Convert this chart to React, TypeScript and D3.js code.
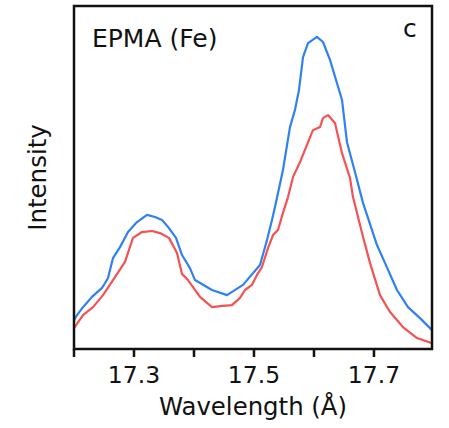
import React from "react";
import * as d3 from "d3";

// Blue series (wavelength Å, intensity a.u.)
const blueWavelength = [
  17.2, 17.205, 17.215, 17.23, 17.2467, 17.2567, 17.265, 17.2767, 17.29, 17.305,
  17.3217, 17.335, 17.3467, 17.3567, 17.37, 17.38, 17.3933, 17.4017, 17.43, 17.455,
  17.4817, 17.51, 17.5217, 17.53, 17.535, 17.5483, 17.56, 17.5683, 17.575, 17.5817,
  17.59, 17.605, 17.615, 17.6267, 17.6467, 17.655, 17.6683, 17.6817, 17.705, 17.7183,
  17.7383, 17.7567, 17.7767, 17.7967,
];
const blueIntensity = [
  8.5, 9.9, 12.2, 15.2, 17.8, 20.7, 26.5, 29.7, 34.1, 37.0,
  39.1, 38.5, 37.6, 35.6, 32.4, 27.4, 23.6, 20.1, 17.2, 15.7,
  18.7, 24.5, 31.8, 37.6, 41.4, 52.2, 64.7, 69.7, 75.5, 85.1,
  89.2, 91.0, 89.5, 84.3, 72.6, 60.3, 51.6, 42.6, 30.3, 25.1,
  17.2, 12.2, 9.0, 5.5,
];

// Red series
const redWavelength = [
  17.2, 17.215, 17.2317, 17.2483, 17.265, 17.285, 17.2983, 17.3133, 17.33, 17.3433,
  17.3583, 17.3717, 17.38, 17.39, 17.41, 17.43, 17.4433, 17.4633, 17.4767, 17.485,
  17.4967, 17.505, 17.5133, 17.5233, 17.5317, 17.54, 17.5483, 17.5567, 17.565, 17.5767,
  17.5883, 17.5983, 17.61, 17.615, 17.6233, 17.635, 17.6467, 17.66, 17.665, 17.6817,
  17.6933, 17.71, 17.7267, 17.7483, 17.7717, 17.7967,
];
const redIntensity = [
  6.1, 9.9, 12.2, 15.7, 20.1, 25.4, 32.4, 34.1, 34.4, 33.8,
  32.4, 28.0, 21.9, 20.1, 15.2, 12.2, 12.5, 12.8, 14.9, 17.2,
  18.7, 21.6, 23.9, 29.4, 33.2, 34.7, 39.7, 44.3, 50.1, 54.5,
  59.5, 63.8, 64.7, 67.3, 68.2, 65.9, 57.1, 49.9, 44.3, 32.7,
  25.1, 15.7, 10.8, 6.4, 3.2, 1.7,
];

const xTicks = [17.2, 17.3, 17.4, 17.5, 17.6, 17.7];
const xTickLabels = ["", "17.3", "", "17.5", "", "17.7"];

const W = 449;
const H = 428;
const left = 74;
const right = 432;
const top = 6;
const bottom = 349;
const FONT = "'DejaVu Sans', Verdana, sans-serif";

export default function App() {
  const x = d3.scaleLinear().domain([17.2, 17.7967]).range([left, right]);
  const y = d3.scaleLinear().domain([0, 100]).range([bottom, top]);

  const line = d3
    .line<[number, number]>()
    .x((d) => x(d[0]))
    .y((d) => y(d[1]));

  const blue = blueWavelength.map((w, i) => [w, blueIntensity[i]] as [number, number]);
  const red = redWavelength.map((w, i) => [w, redIntensity[i]] as [number, number]);

  return (
    <svg
      width={W}
      height={H}
      style={{ position: "absolute", left: 0, top: 0, background: "#fff" }}
    >
      <defs>
        <clipPath id="plot">
          <rect x={left} y={top} width={right - left} height={bottom - top} />
        </clipPath>
      </defs>
      <g clipPath="url(#plot)" fill="none" strokeWidth={2.2} strokeLinejoin="round">
        <path d={line(red) || ""} stroke="#f45253" />
        <path d={line(blue) || ""} stroke="#2f80f4" />
      </g>
      <rect
        x={left}
        y={top}
        width={right - left}
        height={bottom - top}
        fill="none"
        stroke="#111"
        strokeWidth={2.5}
      />
      {xTicks.map((t, i) => (
        <g key={t}>
          <line x1={x(t)} x2={x(t)} y1={bottom} y2={bottom + 8} stroke="#111" strokeWidth={2.5} />
          {xTickLabels[i] && (
            <text
              x={x(t)}
              y={383}
              textAnchor="middle"
              fontFamily={FONT}
              fontSize={23.5}
              fill="#111"
            >
              {xTickLabels[i]}
            </text>
          )}
        </g>
      ))}
      <text x={(left + right) / 2} y={415} textAnchor="middle" fontFamily={FONT} fontSize={24.4} fill="#111">
        Wavelength (Å)
      </text>
      <text
        transform={`translate(46,${(top + bottom) / 2}) rotate(-90)`}
        textAnchor="middle"
        fontFamily={FONT}
        fontSize={24.5}
        fill="#111"
      >
        Intensity
      </text>
      <text x={92} y={47} fontFamily={FONT} fontSize={25} fill="#111">
        EPMA (Fe)
      </text>
      <text x={403} y={37} fontFamily={FONT} fontSize={25} fill="#111">
        c
      </text>
    </svg>
  );
}
